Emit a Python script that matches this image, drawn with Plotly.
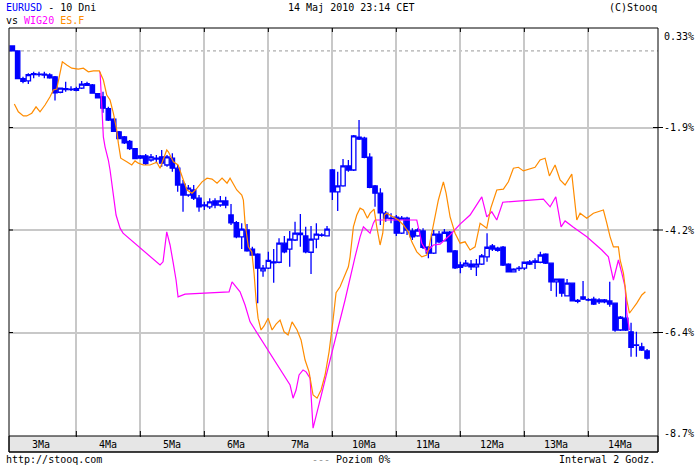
import plotly.graph_objects as go

# ---------------- data (percent change) ----------------
candle_hours = list(range(0, 240, 2))  # 2-hour candles, hours since 3 May 00:00

opens = [
    -0.13, -0.24, -0.85, -0.90, -0.76, -0.76, -0.75, -0.77, -0.81, -1.15,
    -1.07, -1.09, -1.07, -1.06, -0.96, -0.99, -1.18, -1.25, -1.51, -1.74,
    -2.02, -2.13, -2.23, -2.39, -2.60, -2.55, -2.64, -2.60, -2.57, -2.75,
    -2.60, -2.82, -3.17, -3.41, -3.30, -3.48, -3.63, -3.67, -3.54, -3.63,
    -3.54, -3.85, -4.02, -4.33, -4.18, -4.60, -4.71, -5.08, -5.02, -4.88,
    -4.89, -4.47, -4.60, -4.40, -4.25, -4.31, -4.67, -4.38, -4.29, -4.31,
    -2.86, -3.34, -3.21, -2.77, -2.86, -2.14, -2.16, -2.58, -3.21, -3.37,
    -3.81, -3.92, -3.90, -4.25, -3.92, -4.20, -4.31, -4.20, -4.56, -4.69,
    -4.27, -4.42, -4.23, -4.64, -5.00, -4.97, -4.93, -4.99, -4.93, -4.77,
    -4.53, -4.63, -4.56, -4.93, -5.10, -5.02, -5.02, -4.93, -4.86, -4.89,
    -4.71, -4.91, -5.32, -5.26, -5.63, -5.35, -5.73, -5.70, -5.71, -5.70,
    -5.72, -5.72, -5.74, -5.79, -6.38, -6.12, -6.42, -6.71, -6.75, -6.84]

highs = [
    -0.12, -0.23, -0.81, -0.73, -0.70, -0.70, -0.70, -0.73, -0.79, -1.05,
    -0.92, -1.02, -1.03, -0.90, -0.92, -0.97, -1.17, -1.14, -1.47, -1.72,
    -2.00, -2.11, -2.20, -2.38, -2.53, -2.51, -2.51, -2.53, -2.42, -2.53,
    -2.49, -2.75, -3.08, -3.19, -3.19, -3.41, -3.56, -3.48, -3.48, -3.43,
    -3.45, -3.61, -3.98, -4.03, -4.05, -4.55, -4.69, -4.95, -4.66, -4.60,
    -4.36, -4.31, -4.20, -4.00, -3.83, -4.11, -4.09, -4.03, -4.25, -4.09,
    -2.84, -2.90, -2.62, -2.64, -2.09, -1.76, -2.13, -2.49, -3.19, -3.26,
    -3.76, -3.81, -3.85, -3.87, -3.89, -4.14, -4.14, -4.14, -4.53, -4.18,
    -4.20, -4.16, -4.20, -4.62, -4.88, -4.84, -4.84, -4.82, -4.71, -4.25,
    -4.49, -4.55, -4.53, -4.91, -5.02, -4.97, -4.88, -4.84, -4.80, -4.66,
    -4.69, -4.91, -5.26, -5.26, -5.26, -5.35, -5.70, -5.30, -5.68, -5.65,
    -5.68, -5.70, -5.32, -5.79, -6.07, -5.65, -6.22, -6.42, -6.66, -6.80]

lows = [
    -0.24, -0.86, -0.95, -0.97, -0.84, -0.81, -0.84, -0.85, -1.33, -1.17,
    -1.14, -1.12, -1.13, -1.08, -1.01, -1.18, -1.28, -1.60, -1.78, -2.02,
    -2.18, -2.29, -2.42, -2.62, -2.62, -2.75, -2.68, -2.71, -2.79, -2.79,
    -2.90, -3.34, -3.78, -3.45, -3.52, -3.78, -3.74, -3.72, -3.70, -3.67,
    -3.70, -4.07, -4.36, -4.60, -4.66, -4.75, -5.79, -5.21, -5.04, -5.34,
    -4.91, -4.69, -4.99, -4.42, -4.55, -4.69, -5.15, -4.58, -4.33, -4.31,
    -3.52, -3.76, -3.23, -2.90, -2.88, -2.20, -2.60, -3.26, -3.67, -4.07,
    -4.00, -4.03, -4.31, -4.27, -4.29, -4.40, -4.33, -4.60, -4.80, -4.71,
    -4.47, -4.42, -4.66, -5.04, -5.13, -4.99, -5.06, -5.19, -4.95, -4.88,
    -4.64, -4.66, -4.97, -5.10, -5.10, -5.08, -5.06, -4.95, -5.04, -4.91,
    -4.93, -5.52, -5.65, -5.65, -5.63, -5.74, -5.79, -5.72, -5.75, -5.83,
    -5.81, -5.79, -5.87, -6.42, -6.40, -6.40, -6.97, -6.97, -6.84, -7.03]

closes = [
    -0.24, -0.85, -0.91, -0.76, -0.74, -0.75, -0.77, -0.83, -1.16, -1.06,
    -1.09, -1.08, -1.11, -0.97, -1.00, -1.17, -1.27, -1.50, -1.76, -2.01,
    -2.17, -2.26, -2.39, -2.61, -2.55, -2.72, -2.57, -2.62, -2.71, -2.57,
    -2.82, -3.19, -3.41, -3.26, -3.48, -3.67, -3.65, -3.56, -3.63, -3.54,
    -3.63, -4.02, -4.33, -4.16, -4.64, -4.73, -5.02, -5.02, -4.85, -4.90,
    -4.47, -4.66, -4.38, -4.25, -4.28, -4.66, -4.38, -4.27, -4.30, -4.16,
    -3.34, -3.21, -2.77, -2.86, -2.11, -2.18, -2.58, -3.24, -3.37, -3.80,
    -3.92, -3.93, -4.25, -3.92, -4.18, -4.33, -4.18, -4.56, -4.69, -4.27,
    -4.44, -4.23, -4.66, -5.01, -4.95, -4.91, -4.99, -4.93, -4.75, -4.56,
    -4.60, -4.58, -4.95, -5.10, -5.04, -5.03, -4.89, -4.88, -4.89, -4.73,
    -4.91, -5.32, -5.26, -5.57, -5.35, -5.74, -5.75, -5.65, -5.72, -5.81,
    -5.76, -5.76, -5.81, -6.38, -6.10, -6.38, -6.76, -6.72, -6.82, -7.00]

esf_hours = [
    0.75, 2.25, 4.13, 5.4, 7.28, 8.89, 10.39, 12.26, 14.14, 15.38,
    16.65, 17.63, 18.75, 20.4, 22.28, 24.75, 26.63, 28.5, 30.38, 32.63,
    34.13, 35.4, 36.64, 37.88, 39.15, 39.75, 40.65, 42.9, 44.78, 46.01,
    47.25, 49.13, 51.64, 54.15, 55.39, 57.9, 58.5, 60.38, 62.14, 64.13,
    65.51, 67.39, 69.26, 71.14, 73.01, 74.89, 76.76, 78.64, 80.51, 81.64,
    84.15, 86.03, 86.63, 87.26, 88.5, 89.78, 90.64, 91.39, 92.14, 93.26,
    94.39, 95.89, 97.39, 98.89, 100.39, 101.89, 103.39, 104.89, 106.76, 108.26,
    109.76, 111.26, 112.76, 114.26, 115.76, 117.26, 118.76, 120.26, 121.39, 122.89,
    124.76, 126.0, 126.64, 127.28, 127.88, 129.15, 130.39, 131.63, 133.13, 134.14,
    135.64, 136.65, 137.89, 138.9, 139.5, 140.4, 142.88, 144.75, 146.63, 148.5,
    149.78, 151.65, 153.53, 155.4, 156.0, 157.88, 159.75, 161.63, 162.64, 164.14,
    166.01, 167.89, 169.76, 171.64, 173.51, 175.39, 177.9, 179.4, 181.65, 184.13,
    186.0, 187.88, 189.75, 191.63, 196.01, 197.89, 199.76, 201.38, 203.51, 205.39,
    207.26, 209.78, 210.64, 211.65, 212.89, 215.4, 217.88, 221.63, 222.9, 224.14,
    225.38, 227.25, 227.89, 229.13, 230.4, 231.38, 232.28, 234.15, 236.03, 237.38]
esf_values = [
    -1.41, -1.58, -1.67, -1.67, -1.61, -1.47, -1.58, -1.43, -1.25, -1.10,
    -1.08, -0.81, -0.48, -0.55, -0.62, -0.64, -0.62, -0.70, -0.68, -0.68,
    -0.88, -1.21, -1.32, -1.61, -1.98, -2.27, -2.60, -2.68, -2.75, -2.66,
    -2.71, -2.75, -2.75, -2.69, -2.82, -2.42, -2.46, -2.68, -2.75, -3.08,
    -3.30, -3.37, -3.26, -3.12, -3.04, -3.06, -3.15, -3.04, -3.15, -3.04,
    -3.30, -3.41, -3.52, -4.03, -4.55, -4.66, -5.13, -5.72, -6.12, -6.38,
    -6.29, -6.12, -6.38, -6.25, -6.16, -6.42, -6.49, -6.20, -6.38, -6.60,
    -7.04, -7.30, -7.81, -7.88, -7.70, -7.37, -6.86, -6.16, -5.56, -5.43,
    -5.17, -4.99, -4.77, -4.40, -4.11, -3.85, -3.70, -3.74, -3.92, -3.81,
    -3.72, -4.11, -4.51, -4.25, -3.85, -3.81, -3.90, -3.96, -4.07, -4.22,
    -4.44, -4.66, -4.77, -4.73, -4.62, -4.07, -3.52, -3.12, -3.37, -3.89,
    -4.25, -4.47, -4.44, -4.62, -4.55, -4.03, -4.14, -3.70, -3.30, -3.28,
    -3.12, -2.82, -2.80, -2.88, -2.80, -2.64, -2.60, -2.99, -2.75, -3.08,
    -3.19, -2.95, -3.41, -3.96, -3.81, -3.92, -3.81, -3.74, -4.03, -4.33,
    -4.55, -4.55, -4.84, -5.13, -5.72, -6.01, -5.94, -5.79, -5.61, -5.54]

wig_hours = [
    32.89, 33.26, 33.53, 34.13, 34.76, 35.4, 36.0, 36.64, 37.76, 38.89,
    40.39, 41.51, 55.39, 56.51, 57.9, 59.14, 60.26, 61.39, 62.14, 64.76,
    81.26, 82.39, 83.89, 85.39, 87.26, 89.14, 104.14, 105.26, 106.39, 107.51,
    109.01, 110.14, 111.64, 112.76, 124.76, 126.64, 128.51, 130.39, 131.63,
    132.9, 134.14, 135.38, 136.01, 151.65, 152.25, 153.53, 155.4, 157.88, 160.39,
    162.26, 164.14, 167.89, 171.64, 176.03, 177.9, 179.78, 181.65, 183.9, 190.39,
    199.13, 201.64, 203.78, 205.76, 207.26, 210.38, 215.4, 221.03, 223.5, 225.38,
    227.25, 228.53, 229.76, 230.4, 231.38]
wig_values = [
    -0.70, -1.25, -1.61, -2.13, -2.35, -2.49, -2.64, -2.86, -3.41, -3.85,
    -4.14, -4.25, -4.95, -4.88, -4.22, -4.51, -4.88, -5.28, -5.65, -5.59,
    -5.54, -5.32, -5.43, -5.54, -5.83, -6.20, -7.59, -7.88, -7.70, -7.37,
    -7.26, -7.30, -7.44, -8.54, -5.72, -5.21, -4.77, -4.33, -4.11,
    -4.18, -4.25, -4.03, -3.96, -3.96, -4.14, -4.47, -4.66, -4.51, -4.49,
    -4.40, -4.29, -4.05, -3.85, -3.45, -3.89, -3.78, -3.96, -3.57, -3.54,
    -3.50, -3.67, -3.45, -4.11, -3.98, -4.12, -4.33, -4.62, -4.77, -5.28,
    -4.84, -5.13, -5.43, -6.01, -6.38]

day_labels = ["3Ma", "4Ma", "5Ma", "6Ma", "7Ma", "10Ma", "11Ma", "12Ma", "13Ma", "14Ma"]
day_label_hours = [10.8, 36, 60, 84, 108, 132, 156, 180, 204, 228]
day_boundaries = [24, 48, 72, 96, 120, 144, 168, 192, 216]

ytick_labels = ["0.33%", "-1.9%", "-4.2%", "-6.4%", "-8.7%"]
ytick_values = [0.33, -1.925, -4.18, -6.435, -8.69]
zero_level = -0.24  # "Poziom 0%" reference line

# ---------------- figure ----------------
FONT = "DejaVu Sans Mono"
BLUE = "#0000ff"
MAGENTA = "#ff00ff"
ORANGE = "#ff8c00"

fig = go.Figure()

fig.add_trace(go.Candlestick(
    x=candle_hours, open=opens, high=highs, low=lows, close=closes,
    increasing=dict(line=dict(color=BLUE, width=1.3), fillcolor="white"),
    decreasing=dict(line=dict(color=BLUE, width=1.3), fillcolor=BLUE),
    whiskerwidth=0, showlegend=False, hoverinfo="skip"))

fig.add_trace(go.Scatter(x=wig_hours, y=wig_values, mode="lines",
                         line=dict(color=MAGENTA, width=1.2), showlegend=False,
                         hoverinfo="skip"))
fig.add_trace(go.Scatter(x=esf_hours, y=esf_values, mode="lines",
                         line=dict(color=ORANGE, width=1.2), showlegend=False,
                         hoverinfo="skip"))

X_RANGE = [-1.25, 242.1]
Y_RANGE = [-8.712, 0.264]

fig.update_layout(
    width=700, height=466,
    margin=dict(l=9, r=42, t=28, b=30, pad=0),
    paper_bgcolor="white", plot_bgcolor="white",
    boxgap=0.18, boxgroupgap=0,
    font=dict(family=FONT, size=10, color="black"),
    xaxis=dict(range=X_RANGE, rangeslider=dict(visible=False), showticklabels=False,
               tickmode="array", tickvals=day_boundaries, showgrid=True,
               gridcolor="#c8c8c8", gridwidth=2, zeroline=False, showline=False,
               ticks="", fixedrange=True),
    yaxis=dict(range=Y_RANGE, side="right", showticklabels=False,
               tickmode="array", tickvals=ytick_values[1:4], showgrid=True,
               gridcolor="#c8c8c8", gridwidth=2, zeroline=False, showline=False,
               ticks="", fixedrange=True),
)

PH = 408.0  # plot height in px
band = 16.0 / PH

shapes = []
# zero level dashed line
shapes.append(dict(type="line", xref="paper", x0=0, x1=1, yref="y", y0=zero_level, y1=zero_level,
                   line=dict(color="#999999", width=1, dash="3px,3px"), layer="below"))
# date band
shapes.append(dict(type="rect", xref="paper", yref="paper", x0=0, x1=1, y0=-band, y1=0,
                   fillcolor="#e6e6e6", line=dict(color="black", width=1), layer="above"))
# frame
shapes.append(dict(type="rect", xref="paper", yref="paper", x0=0, x1=1, y0=-band, y1=1,
                   line=dict(color="black", width=1), layer="above"))
# day tick marks (bottom and top)
for b in day_boundaries:
    shapes.append(dict(type="line", xref="x", x0=b, x1=b, yref="paper", ysizemode="pixel",
                       yanchor=0, y0=-1, y1=5, line=dict(color="black", width=1)))
    shapes.append(dict(type="line", xref="x", x0=b, x1=b, yref="paper", ysizemode="pixel",
                       yanchor=1, y0=0, y1=-4, line=dict(color="black", width=1)))
# y tick marks
for v in ytick_values[1:4]:
    shapes.append(dict(type="line", yref="y", y0=v, y1=v, xref="paper", xsizemode="pixel",
                       xanchor=1, x0=-5, x1=5, line=dict(color="black", width=1)))
    shapes.append(dict(type="line", yref="y", y0=v, y1=v, xref="paper", xsizemode="pixel",
                       xanchor=0, x0=0, x1=4, line=dict(color="black", width=1)))
fig.update_layout(shapes=shapes)


def px_to_paper_y(p):
    return (436.0 - p) / PH


def px_to_paper_x(p):
    return (p - 9.0) / 649.0


ann = []
# day labels in band
for lab, h in zip(day_labels, day_label_hours):
    ann.append(dict(text=lab, x=h, xref="x", y=px_to_paper_y(444), yref="paper",
                    showarrow=False, xanchor="center", yanchor="middle",
                    font=dict(family=FONT, size=10, color="black")))
# y labels
ann.append(dict(text=ytick_labels[0], xref="paper", x=1, xshift=4, xanchor="left",
                yref="paper", y=px_to_paper_y(36), yanchor="middle", showarrow=False))
for lab, v in zip(ytick_labels[1:4], ytick_values[1:4]):
    ann.append(dict(text=lab, xref="paper", x=1, xshift=4, xanchor="left",
                    yref="y", y=v, yanchor="middle", showarrow=False))
ann.append(dict(text=ytick_labels[4], xref="paper", x=1, xshift=4, xanchor="left",
                yref="paper", y=px_to_paper_y(433), yanchor="middle", showarrow=False))
# header
ann.append(dict(text='<span style="color:#0000ff">EURUSD</span> - 10 Dni', xref="paper",
                x=px_to_paper_x(4), xanchor="left", yref="paper", y=px_to_paper_y(8),
                yanchor="middle", showarrow=False))
ann.append(dict(text='vs <span style="color:#ff00ff">WIG20</span> <span style="color:#ff8c00">ES.F</span>',
                xref="paper", x=px_to_paper_x(4), xanchor="left", yref="paper",
                y=px_to_paper_y(20), yanchor="middle", showarrow=False))
ann.append(dict(text="14 Maj 2010 23:14 CET", xref="paper", x=px_to_paper_x(351), xanchor="center",
                yref="paper", y=px_to_paper_y(8), yanchor="middle", showarrow=False))
ann.append(dict(text="(C)Stooq", xref="paper", x=px_to_paper_x(659), xanchor="right",
                yref="paper", y=px_to_paper_y(8), yanchor="middle", showarrow=False))
# footer
ann.append(dict(text="http://stooq.com", xref="paper", x=px_to_paper_x(4), xanchor="left",
                yref="paper", y=px_to_paper_y(459), yanchor="middle", showarrow=False))
ann.append(dict(text='<span style="color:#999999">---</span> Poziom 0%', xref="paper",
                x=px_to_paper_x(351), xanchor="center", yref="paper", y=px_to_paper_y(459),
                yanchor="middle", showarrow=False))
ann.append(dict(text="Interwal 2 Godz.", xref="paper", x=px_to_paper_x(657), xanchor="right",
                yref="paper", y=px_to_paper_y(459), yanchor="middle", showarrow=False))
fig.update_layout(annotations=ann)

fig.write_html("out.html", config={"displayModeBar": False},
               post_script="document.body.style.margin='0px';document.body.style.overflow='hidden';")
